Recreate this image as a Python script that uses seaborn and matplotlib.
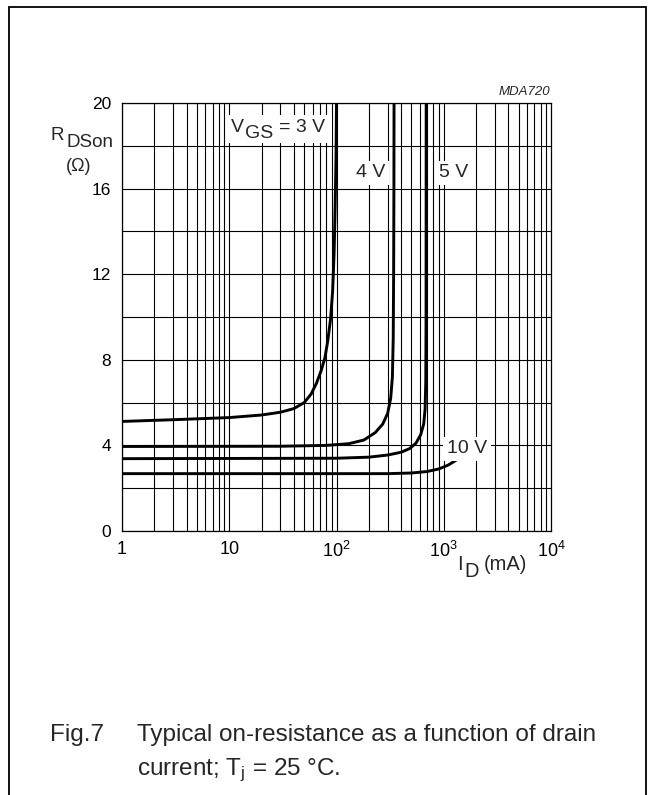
import numpy as np
import pandas as pd
import seaborn as sns
import matplotlib
matplotlib.use("Agg")
import matplotlib.pyplot as plt
from matplotlib.patches import Rectangle

# ---- data (I_D in mA, R_DSon in ohm) ----
id_3v = [1, 3, 10, 20, 30, 40, 50, 58, 65, 72, 78, 83, 88, 92, 95, 97, 99, 100]
r_3v = [5.12, 5.2, 5.3, 5.42, 5.55, 5.72, 6.0, 6.4, 6.9, 7.5, 8.1, 8.9, 9.9, 11.2, 13, 15, 17.5, 20]
id_4v = [1, 30, 80, 130, 180, 230, 270, 300, 320, 332, 338, 341, 343, 344]
r_4v = [3.95, 3.96, 4.0, 4.08, 4.25, 4.6, 5.0, 5.5, 6.2, 7.2, 9, 12, 16, 20]
id_5v = [1, 100, 200, 300, 400, 480, 550, 610, 650, 670, 680, 684, 686]
r_5v = [3.38, 3.4, 3.45, 3.55, 3.68, 3.85, 4.1, 4.5, 5.0, 5.7, 7, 10, 20]
id_10v = [1, 300, 500, 700, 900, 1100, 1250, 1400]
r_10v = [2.68, 2.68, 2.71, 2.78, 2.9, 3.08, 3.25, 3.42]

series_names = ["3 V", "4 V", "5 V", "10 V"]
x_ticks = [1, 10, 100, 1000, 10000]
x_ticklabels = ["1", "10", "10$^{2}$", "10$^{3}$", "10$^{4}$"]
y_ticks = [0, 4, 8, 12, 16, 20]

frames = []
for name, xs, ys in zip(series_names, [id_3v, id_4v, id_5v, id_10v], [r_3v, r_4v, r_5v, r_10v]):
    frames.append(pd.DataFrame({"ID": xs, "R": ys, "VGS": name}))
df = pd.concat(frames, ignore_index=True)

sns.set_style("white")
plt.rcParams["font.family"] = ["Liberation Sans", "DejaVu Sans"]
plt.rcParams["mathtext.fontset"] = "custom"
plt.rcParams["mathtext.rm"] = "Liberation Sans"
plt.rcParams["mathtext.it"] = "Liberation Sans:italic"

W, H = 655, 795
fig = plt.figure(figsize=(W / 100, H / 100), dpi=100)
fig.patch.set_facecolor("white")


def px(x, y):
    return x / W, 1 - y / H


def ftext(x, y, s, size, ha="left", va="baseline", **kw):
    fx, fy = px(x, y)
    return fig.text(fx, fy, s, ha=ha, va=va, fontsize=size, **kw)


# outer frame
fig.patches.append(Rectangle((9 / W, -0.01), (646 - 9) / W, (795 - 7) / H + 0.01,
                             transform=fig.transFigure, fill=False, edgecolor="black",
                             linewidth=1.3))

ax_l, ax_r, ax_t, ax_b = 122, 551, 103, 531
ax = fig.add_axes([ax_l / W, (H - ax_b) / H, (ax_r - ax_l) / W, (ax_b - ax_t) / H])
ax.set_facecolor("white")

sns.lineplot(data=df, x="ID", y="R", hue="VGS", palette=["black"] * 4,
             estimator=None, sort=False, units="VGS", legend=False,
             linewidth=2.1, ax=ax, zorder=3)

ax.set_xscale("log")
ax.set_xlim(1, 10000)
ax.set_ylim(0, 20)

# grid
for dec in [1, 10, 100, 1000]:
    for m in range(1, 10):
        ax.axvline(dec * m, color="black", linewidth=0.8, zorder=1)
for yv in range(0, 21, 2):
    ax.axhline(yv, color="black", linewidth=0.8, zorder=1)

for s in ax.spines.values():
    s.set_linewidth(0.9)
    s.set_color("black")

ax.set_xticks(x_ticks)
ax.set_xticklabels(x_ticklabels)
ax.set_xticks([], minor=True)
ax.set_yticks(y_ticks)
ax.set_yticklabels([str(v) for v in y_ticks])
ax.tick_params(axis="both", length=0, colors="black")
ax.tick_params(axis="x", pad=7, labelsize=13)
ax.tick_params(axis="y", pad=8, labelsize=12.5)
ax.set_xlabel("")
ax.set_ylabel("")

# white patch behind the V_GS label
fig.patches.append(Rectangle(px(226, 143), 106 / W, 28 / H, transform=fig.transFigure,
                             facecolor="white", edgecolor="none", zorder=4))
box = dict(facecolor="white", edgecolor="none", pad=2.5)
# curve labels (pixel positions from the reference)
ftext(231, 132, "V", 14, zorder=5)
ftext(245, 138, "GS", 14, zorder=5)
ftext(279, 132, "= 3 V", 14, zorder=5)
ftext(371, 177, "4 V", 14, ha="center", bbox=box, zorder=5)
ftext(454, 177, "5 V", 14, ha="center", bbox=box, zorder=5)
ftext(467, 453, "10 V", 14, ha="center", bbox=box, zorder=5)

# axis titles
ftext(51, 140, "R", 13.5)
ftext(66, 147, "DSon", 13.5)
ftext(79, 171, "(Ω)", 13, ha="center")
ftext(457, 570, "I", 14.5)
ftext(464, 577, "D", 14.5)
ftext(484, 570, "(mA)", 14.5)
ftext(550, 95, "MDA720", 9.5, ha="right", style="italic")

# caption
ftext(50, 741, "Fig.7", 17.5)
ftext(137, 741, "Typical on-resistance as a function of drain", 17.5)
ftext(137, 775, "current; T$_{\\mathrm{j}}$ = 25 °C.", 17.5)

fig.savefig("out.png", dpi=100, facecolor="white")
